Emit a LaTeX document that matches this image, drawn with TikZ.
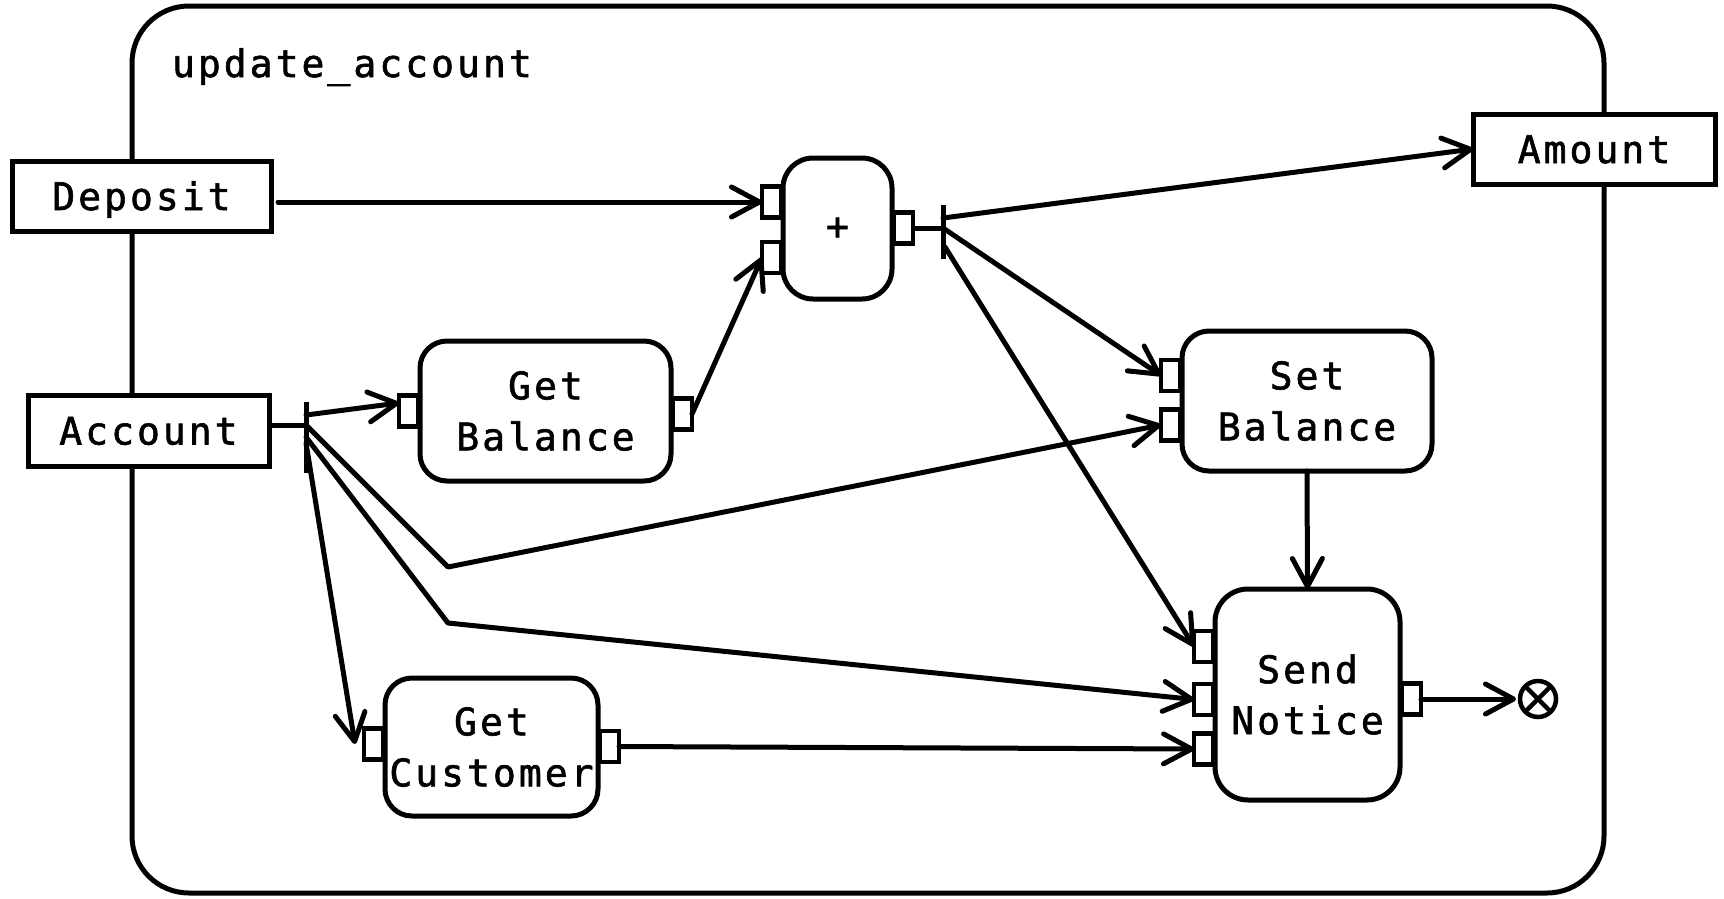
\documentclass[tikz,border=0pt]{standalone}
\usepackage{fontspec}
\newfontfamily\diagfont{DejaVu Sans Mono}[LetterSpace=8,FakeBold=1.6]
\usetikzlibrary{arrows.meta,calc}

\begin{document}
\begin{tikzpicture}[x=1pt,y=-1pt,
  every node/.style={font=\fontsize{38}{51}\diagfont, outer sep=0pt, inner sep=0pt},
  frame/.style={draw, line width=5pt, rounded corners=57pt},
  term/.style={draw, fill=white, line width=5pt, minimum height=70pt, text height=28pt, text depth=0pt},
  action/.style={draw, fill=white, line width=5pt, rounded corners=27pt, align=center},
  pinbox/.style={draw, fill=white, line width=4.5pt, minimum width=19pt, minimum height=31pt},
  inpin/.style={pinbox, anchor=east, xshift=-2pt},
  outpin/.style={pinbox, anchor=west, xshift=2pt},
  plain/.style={line width=5pt},
  flow/.style={line width=5pt, line cap=round, line join=round,
    -{Straight Barb[round,length=28pt,width=30pt]}},
  finalnode/.style={draw, circle, line width=4.5pt, minimum size=36pt}
]
\useasboundingbox (0,0) rectangle (1724,898);

% enclosing activity
\node[frame, minimum width=1472pt, minimum height=887pt] (frame) at (868,449.5) {};
\node[anchor=base west] (title) at (172,77) {update\_account};

% parameter nodes on the border
\node[term, minimum width=259pt] (deposit) at (141.5,196) {Deposit};
\node[term, minimum width=241pt, minimum height=71pt] (account) at (148.5,430.5) {Account};
\node[term, minimum width=242pt] (amount) at (1594,149) {Amount};

% actions
\node[action, minimum width=109pt, minimum height=141pt, rounded corners=30pt] (plus) at (837.5,228.5) {\raisebox{-4pt}{+}};
\node[action, minimum width=251pt, minimum height=140pt] (getbal) at (545.5,411) {Get\\Balance};
\node[action, minimum width=250pt, minimum height=140pt] (setbal) at (1307,401) {Set\\Balance};
\node[action, minimum width=185pt, minimum height=211pt, rounded corners=33pt] (send) at (1307.5,694.5) {Send\\Notice};
\node[action, minimum width=213pt, minimum height=138pt] (getcust) at (491.5,747) {Get\\Customer};

% pins
\node[inpin]  (plusin1) at (plus.west |- 0,202) {};
\node[inpin]  (plusin2) at (plus.west |- 0,257.5) {};
\node[outpin] (plusout) at (plus.east |- 0,228) {};
\node[inpin]  (gbin) at (getbal.west |- 0,411) {};
\node[outpin] (gbout) at (getbal.east |- 0,414) {};
\node[inpin]  (sbin1) at (setbal.west |- 0,375.5) {};
\node[inpin]  (sbin2) at (setbal.west |- 0,425) {};
\node[inpin]  (sendin1) at (send.west |- 0,646.5) {};
\node[inpin]  (sendin2) at (send.west |- 0,699.5) {};
\node[inpin]  (sendin3) at (send.west |- 0,749) {};
\node[outpin] (sendout) at (send.east |- 0,699) {};
\node[inpin]  (gcin) at (getcust.west |- 0,744) {};
\node[outpin] (gcout) at (getcust.east |- 0,746.5) {};

% activity final
\node[finalnode] (final) at (1538,699) {};
\draw[line width=4.5pt] (final.north west) -- (final.south east)
                        (final.north east) -- (final.south west);

% fork bars
\coordinate (forkA) at (306,425);
\coordinate (forkAtop) at (306,402);
\coordinate (forkAbot) at (306,473);
\coordinate (a1) at (306,415);
\coordinate (a3) at (306,437);
\coordinate (a4) at (306,443);
\coordinate (bend1) at (448,567);
\coordinate (bend2) at (448,623);
\draw[plain] (forkAtop) -- (forkAbot);

\coordinate (forkP) at (943,228);
\coordinate (forkPtop) at (943,205);
\coordinate (forkPbot) at (943,259);
\coordinate (p1) at (943,218);
\coordinate (p3) at (945,247);
\draw[plain] (forkPtop) -- (forkPbot);

% object flows
\draw[flow] ($(deposit.east |- plusin1.west)+(7,0)$) -- (plusin1.west);
\draw[flow] (gbout.east) -- (plusin2.west);
\draw[plain] (plusout.east) -- (forkP);
\draw[flow] (p1) -- (amount.west);
\draw[flow] (forkP) -- (sbin1.west);
\draw[flow] (p3) -- (sendin1.west);

\draw[plain] (account.east |- forkA) -- (forkA);
\draw[flow] (a1) -- ($(gbin.west)+(0,-8)$);
\draw[flow] (forkA) -- (bend1) -- (sbin2.west);
\draw[flow] (a3) -- (bend2) -- (sendin2.west);
\draw[flow] (a4) -- ($(gcin.west)+(-9,0)$);
\draw[flow] (gcout.east) -- (sendin3.west);
\draw[flow] (setbal.south) -- (send.north);
\draw[flow, shorten >=4pt] (sendout.east) -- (final.west);
\end{tikzpicture}
\end{document}
